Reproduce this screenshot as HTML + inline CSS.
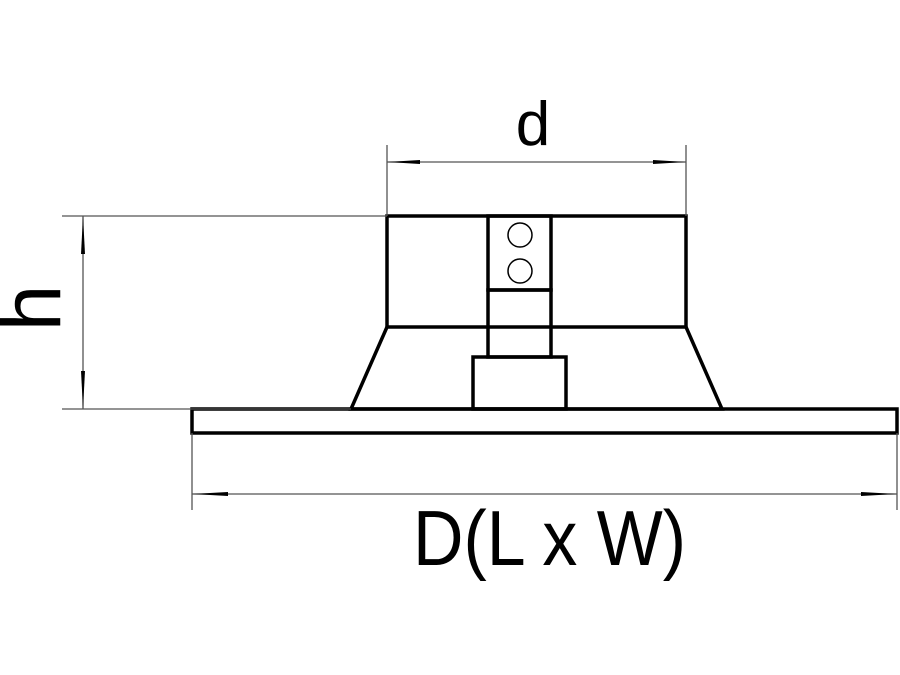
<!DOCTYPE html>
<html><head><meta charset="utf-8"><style>html,body{margin:0;padding:0;background:#fff}svg{display:block}</style></head><body>
<svg width="900" height="675" viewBox="0 0 900 675" xmlns="http://www.w3.org/2000/svg">
<rect width="900" height="675" fill="#fff"/>
<g stroke="#000" stroke-width="3.5" fill="none">
<rect x="387" y="216" width="299" height="111"/>
<rect x="488" y="216" width="63" height="74"/>
<rect x="488" y="290" width="63" height="67"/>
<polyline points="387,327 351,409 722,409 686,327"/>
<rect x="473" y="357" width="93" height="52"/>
<rect x="192" y="409" width="705" height="24"/>
</g>
<g stroke="#000" stroke-width="1.5" fill="none">
<circle cx="520" cy="235" r="12"/>
<circle cx="520" cy="271" r="12"/>
</g>
<g stroke="#555" stroke-width="1.3" fill="none">
<line x1="62" y1="216" x2="387" y2="216"/>
<line x1="62" y1="409" x2="351" y2="409"/>
<line x1="83" y1="216" x2="83" y2="409"/>
<line x1="387" y1="145" x2="387" y2="216"/>
<line x1="686" y1="145" x2="686" y2="216"/>
<line x1="387" y1="162" x2="686" y2="162"/>
<line x1="192" y1="433" x2="192" y2="510"/>
<line x1="897" y1="433" x2="897" y2="510"/>
<line x1="192" y1="494" x2="897" y2="494"/>
</g>
<g fill="#000">
<polygon points="83,216 81,254 85,254"/>
<polygon points="83,409 81,371 85,371"/>
<polygon points="387,162 420,160 420,164"/>
<polygon points="686,162 653,160 653,164"/>
<polygon points="192,494 228,492 228,496"/>
<polygon points="897,494 861,492 861,496"/>
</g>
<g font-family="Liberation Sans, sans-serif" fill="#000">
<text x="533" y="145" font-size="62" text-anchor="middle">d</text>
<text transform="translate(60,308) rotate(-90)" font-size="84" text-anchor="middle">h</text>
<text x="413" y="565" font-size="78" textLength="273" lengthAdjust="spacingAndGlyphs">D(L x W)</text>
</g>
</svg>
</body></html>
